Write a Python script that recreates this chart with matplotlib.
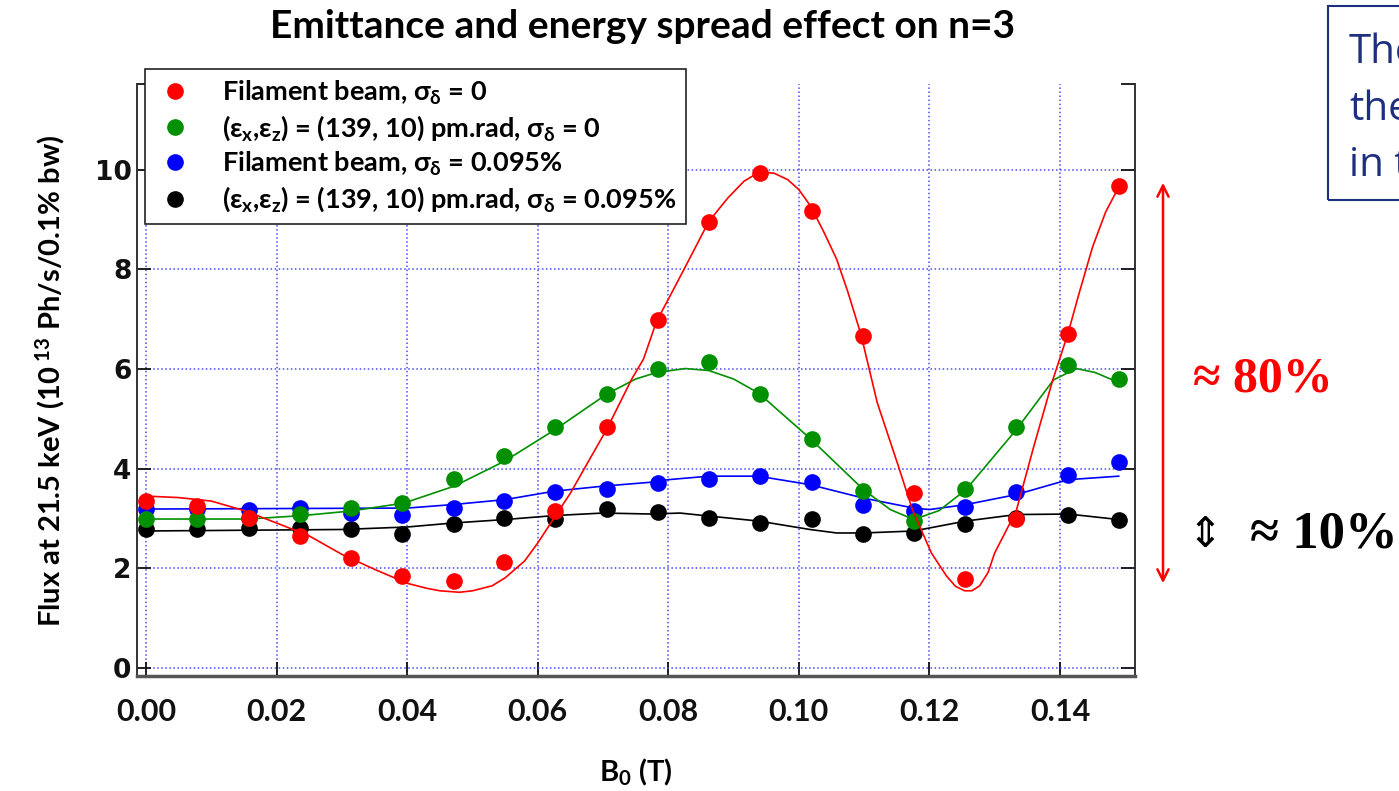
import matplotlib
matplotlib.use("Agg")
import matplotlib.pyplot as plt
from matplotlib.patches import Rectangle

plt.rcParams["font.family"] = ["Lato", "DejaVu Sans"]
plt.rcParams["mathtext.fontset"] = "custom"
plt.rcParams["mathtext.rm"] = "Lato:bold"
plt.rcParams["mathtext.it"] = "Lato:bold"
plt.rcParams["mathtext.bf"] = "Lato:bold"

# measured points (B0 in T, flux in 1e13 Ph/s/0.1% bw)
b0 = [0.0, 0.0078, 0.0157, 0.0235, 0.0314, 0.0392, 0.0471, 0.0549, 0.0627, 0.0706,
      0.0784, 0.0863, 0.0941, 0.1020, 0.1098, 0.1176, 0.1255, 0.1333, 0.1412, 0.1490]
flux_red = [3.36, 3.26, 3.02, 2.64, 2.20, 1.85, 1.75, 2.12, 3.16, 4.84,
            6.98, 8.96, 9.94, 9.18, 6.67, 3.52, 1.79, 2.99, 6.70, 9.68]
flux_green = [2.99, 3.00, 3.02, 3.09, 3.21, 3.31, 3.79, 4.26, 4.84, 5.50,
              6.01, 6.15, 5.50, 4.60, 3.56, 2.96, 3.59, 4.83, 6.08, 5.80]
flux_blue = [3.20, 3.20, 3.18, 3.22, 3.12, 3.07, 3.22, 3.36, 3.53, 3.60,
             3.71, 3.79, 3.85, 3.73, 3.27, 3.16, 3.24, 3.54, 3.87, 4.14]
flux_black = [2.79, 2.79, 2.82, 2.80, 2.79, 2.69, 2.89, 3.02, 2.99, 3.19,
              3.14, 3.02, 2.92, 2.99, 2.69, 2.70, 2.89, 3.02, 3.07, 2.98]

# fitted curves
fit_red_x = [0.0, 0.005, 0.010, 0.015, 0.020, 0.025, 0.030, 0.035, 0.040, 0.043,
             0.045, 0.048, 0.050, 0.053, 0.055, 0.058, 0.060, 0.065, 0.0706, 0.0744,
             0.0762, 0.0782, 0.080, 0.0824, 0.0845, 0.0862, 0.0891, 0.0916, 0.0939, 0.0962,
             0.0983, 0.100, 0.1018, 0.1039, 0.1058, 0.1075, 0.1095, 0.1120, 0.1151, 0.1174,
             0.1203, 0.1226, 0.1240, 0.1254, 0.1265, 0.1277, 0.1290, 0.1300, 0.1333, 0.1360,
             0.1389, 0.1412, 0.1430, 0.1450, 0.1470, 0.1490]
fit_red_y = [3.45, 3.42, 3.35, 3.16, 2.91, 2.65, 2.28, 1.98, 1.70, 1.60,
             1.55, 1.52, 1.55, 1.65, 1.81, 2.15, 2.51, 3.51, 4.80, 5.80,
             6.20, 6.96, 7.40, 8.00, 8.53, 8.96, 9.43, 9.77, 9.95, 9.93,
             9.80, 9.60, 9.27, 8.73, 8.20, 7.55, 6.70, 5.33, 4.11, 3.18,
             2.31, 1.85, 1.64, 1.55, 1.55, 1.65, 1.92, 2.31, 3.15, 4.45,
             5.78, 6.70, 7.55, 8.45, 9.15, 9.65]
fit_green_x = [0.0, 0.0157, 0.024, 0.0313, 0.0395, 0.0472, 0.0549, 0.0626, 0.0706, 0.0750,
               0.0782, 0.0826, 0.0862, 0.0900, 0.0938, 0.1017, 0.1099, 0.1140, 0.1176, 0.1215,
               0.1256, 0.1333, 0.1390, 0.1425, 0.1454, 0.1490]
fit_green_y = [2.99, 2.99, 3.06, 3.15, 3.31, 3.65, 4.15, 4.78, 5.50, 5.80,
               5.93, 6.01, 5.97, 5.80, 5.52, 4.61, 3.58, 3.18, 2.98, 3.16,
               3.58, 4.78, 5.78, 6.01, 5.93, 5.73]
fit_blue_x = [0.0, 0.040, 0.047, 0.055, 0.0626, 0.070, 0.0775, 0.080, 0.0862, 0.0938,
              0.1017, 0.1099, 0.1176, 0.120, 0.1256, 0.1333, 0.1413, 0.1490]
fit_blue_y = [3.19, 3.21, 3.28, 3.38, 3.55, 3.65, 3.73, 3.78, 3.85, 3.85,
              3.68, 3.41, 3.21, 3.18, 3.28, 3.48, 3.78, 3.85]
fit_black_x = [0.0, 0.030, 0.040, 0.047, 0.055, 0.0626, 0.070, 0.0775, 0.0818, 0.0862,
               0.0938, 0.1017, 0.1058, 0.1099, 0.1176, 0.1256, 0.1333, 0.1413, 0.1490]
fit_black_y = [2.75, 2.78, 2.83, 2.91, 2.98, 3.06, 3.11, 3.09, 3.11, 3.05,
               2.95, 2.78, 2.71, 2.71, 2.75, 2.95, 3.08, 3.09, 2.98]

labels = [
    r"Filament beam, $\sigma_\delta$ = 0",
    r"($\varepsilon_x$,$\varepsilon_z$) = (139, 10) pm.rad, $\sigma_\delta$ = 0",
    r"Filament beam, $\sigma_\delta$ = 0.095%",
    r"($\varepsilon_x$,$\varepsilon_z$) = (139, 10) pm.rad, $\sigma_\delta$ = 0.095%",
]
colors = ["#ff0000", "#009000", "#0000ff", "#000000"]

fig = plt.figure(figsize=(13.99, 7.91), dpi=100)
ax = fig.add_axes([137 / 1399, 1 - 676 / 791, (1135 - 137) / 1399, (676 - 84) / 791])

series = [
    (b0, flux_red, fit_red_x, fit_red_y),
    (b0, flux_green, fit_green_x, fit_green_y),
    (b0, flux_blue, fit_blue_x, fit_blue_y),
    (b0, flux_black, fit_black_x, fit_black_y),
]
handles = []
for k, (xs, ys, fx, fy) in enumerate(series):
    z = 10 - k
    ax.plot(fx, fy, color=colors[k], lw=1.2, zorder=z)
    h, = ax.plot(xs, ys, "o", color=colors[k], ms=12, mec="none", zorder=z + 0.5)
    handles.append(h)

ax.set_xlim(-0.0014, 0.1515)
ax.set_ylim(-0.16, 11.72)
ax.set_xticks([0.0, 0.02, 0.04, 0.06, 0.08, 0.10, 0.12, 0.14])
ax.set_xticklabels(["0.00", "0.02", "0.04", "0.06", "0.08", "0.10", "0.12", "0.14"],
                   fontsize=22, fontweight="bold", family=["Lato", "DejaVu Sans"])
ax.set_yticks([0, 2, 4, 6, 8, 10])
ax.set_yticklabels(["0", "2", "4", "6", "8", "10"], fontsize=19, fontweight="bold",
                   family=["DejaVu Sans"])
ax.set_yticks([11.72], minor=True)
ax.tick_params(axis="x", direction="in", length=10, width=1.3, pad=16, colors="#111111")
ax.tick_params(axis="y", which="both", direction="in", length=10, width=1.3, pad=4,
               right=True, colors="#111111")
ax.grid(True, color="#4a4aff", linestyle=":", linewidth=1.1)
ax.set_axisbelow(True)
ax.spines["top"].set_visible(False)
for s in ["left", "right"]:
    ax.spines[s].set_color("#333333")
    ax.spines[s].set_linewidth(1.4)
ax.spines["bottom"].set_color("#555555")
ax.spines["bottom"].set_linewidth(2.5)

leg = ax.legend(handles, labels, loc="upper left",
                bbox_to_anchor=(0.008, 1.025), borderaxespad=0, fancybox=False,
                framealpha=1, edgecolor="#222222", handletextpad=1.0,
                handlelength=1.5, labelspacing=0.25, borderpad=0.35,
                prop={"weight": "bold", "size": 19.5, "family": ["Lato", "DejaVu Sans"]})
leg.get_frame().set_linewidth(1.2)
leg.set_zorder(20)

fig.text(643 / 1399, 1 - 27 / 791, "Emittance and energy spread effect on n=3",
         ha="center", va="center", fontsize=28, fontweight="bold")
fig.text(50 / 1399, 1 - 381 / 791, r"Flux at 21.5 keV (10$^{\ 13}$ Ph/s/0.1% bw)",
         rotation=90, ha="center", va="center", fontsize=21, fontweight="bold")
fig.text(636 / 1399, 1 - 772 / 791, r"B$_0$ (T)", ha="center", va="center",
         fontsize=21, fontweight="bold")

# annotations on the right (the box runs off the slide edge, as in the source)
fig.patches.append(Rectangle((1328 / 1399, 1 - 200 / 791), 0.2, 194 / 791,
                             transform=fig.transFigure, fill=False,
                             edgecolor="#1f2f80", lw=1.5))
for i, t in enumerate(["The", "the", "in t"]):
    fig.text(1349 / 1399, 1 - (63 + 56.5 * i) / 791, t, ha="left", va="baseline",
             fontsize=29, color="#1f2f80", family=["Open Sans", "DejaVu Sans"])

ax.annotate("", xy=(1163 / 1399, 1 - 180 / 791), xytext=(1163 / 1399, 1 - 586 / 791),
            xycoords="figure fraction", textcoords="figure fraction",
            arrowprops=dict(arrowstyle="<->,head_length=0.8,head_width=0.4",
                            color="#ff0000", lw=1.8), annotation_clip=False)
fig.text(1193 / 1399, 1 - 380 / 791, "≈ 80%", ha="left", va="center", fontsize=36,
         color="#ff0000", fontweight="bold", family=["Liberation Serif", "DejaVu Serif"])
fig.text(1205 / 1399, 1 - 535 / 791, "⇕", ha="center", va="center", fontsize=30,
         color="black", family=["DejaVu Sans"])
fig.text(1250 / 1399, 1 - 535 / 791, "≈ 10%", ha="left", va="center", fontsize=38,
         color="black", fontweight="bold", family=["Liberation Serif", "DejaVu Serif"])

fig.savefig("out.png", dpi=100)
